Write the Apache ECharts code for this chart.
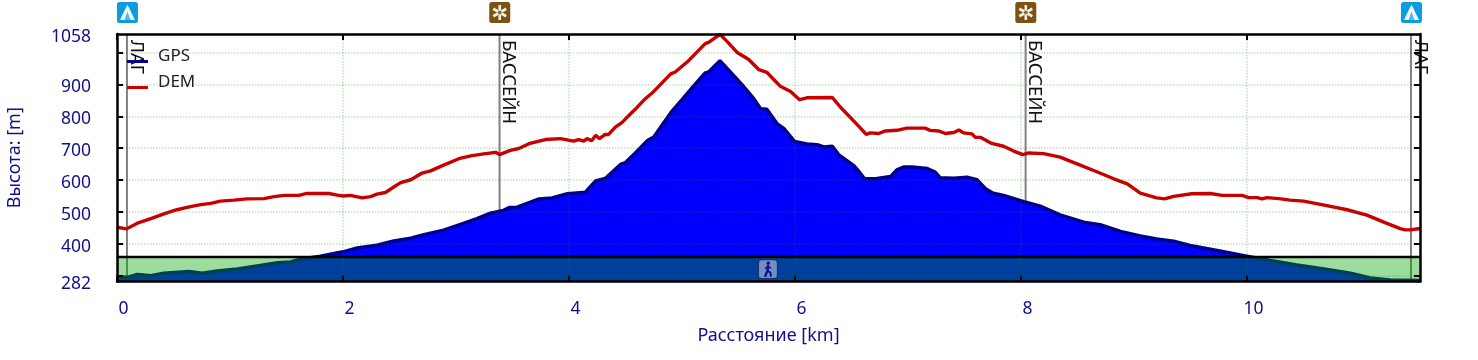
<!DOCTYPE html>
<html>
<head>
<meta charset="utf-8">
<style>html,body{margin:0;padding:0;background:#fff}#c{width:1478px;height:360px}</style>
<script src="https://cdn.jsdelivr.net/npm/echarts@6/dist/echarts.min.js"></script>
</head>
<body>
<div id="c"></div>
<script>
const demKm = [0,0.085,0.18,0.30,0.415,0.53,0.65,0.74,0.83,0.915,1.035,1.15,1.30,1.39,1.48,1.61,1.68,1.875,1.95,2.00,2.065,2.17,2.245,2.30,
2.375,2.435,2.51,2.60,2.70,2.775,2.89,3.025,3.13,3.245,3.35,3.385,3.48,3.555,3.645,3.79,3.925,4.04,4.085,4.13,4.16,4.20,4.235,4.27,4.32,4.35,4.41,4.47,4.545,4.60,
4.66,4.75,4.90,4.94,5.045,5.205,5.235,5.335,5.40,5.485,5.59,5.68,5.75,5.87,5.96,6.04,6.105,6.33,6.40,6.55,6.63,6.665,6.74,6.80,6.90,
6.99,7.15,7.195,7.27,7.33,7.405,7.45,7.49,7.565,7.595,7.64,7.74,7.845,7.935,8.015,8.07,8.20,8.345,8.495,8.67,8.82,8.94,9.055,9.20,
9.27,9.35,9.51,9.675,9.78,9.955,10.015,10.09,10.13,10.175,10.28,10.38,10.50,10.705,10.885,11.06,11.21,11.355,11.40,11.445,11.53];
const demElevation = [452,447,465,479,494,507,517,523,527,534,537,541,542,548,552,552,558,558,553,550,552,544,548,556,
561,575,592,601,622,629,647,667,676,682,687,680,693,699,714,727,730,722,727,722,730,723,740,730,743,743,766,781,808,827,
850,878,933,939,970,1028,1032,1057,1034,1001,978,946,938,894,878,852,858,859,829,774,743,748,746,754,756,
763,763,756,754,746,749,757,748,745,734,734,715,706,691,680,685,683,672,651,626,604,588,559,544,
541,549,557,558,552,552,545,545,541,545,542,537,534,520,507,490,468,448,444,444,448];
const gpsKm = [0,0.09,0.18,0.30,0.415,0.635,0.755,0.885,1.065,1.24,1.42,1.535,1.625,1.80,2.00,2.125,2.30,
2.45,2.60,2.715,2.89,3.04,3.185,3.305,3.42,3.47,3.54,3.63,3.735,3.85,3.985,4.145,4.235,4.32,4.455,4.50,4.60,
4.69,4.75,4.915,5.00,5.105,5.205,5.235,5.335,5.415,5.53,5.635,5.695,5.75,5.84,5.90,5.995,6.105,6.195,6.255,6.33,6.385,6.52,6.565,6.615,6.725,6.845,6.90,
6.96,7.035,7.17,7.24,7.285,7.405,7.52,7.61,7.685,7.745,7.845,8.025,8.17,8.345,8.555,8.70,8.88,9.055,9.20,
9.35,9.495,9.735,9.985,10.205,10.44,10.68,10.915,11.09,11.265,11.53];
const gpsElevation = [297,295,304,300,308,313,308,315,321,331,341,343,352,361,375,387,396,
409,418,429,443,461,479,496,505,514,515,527,541,544,557,562,597,605,649,655,690,
723,735,818,852,896,936,939,974,944,899,855,824,822,777,762,721,713,711,704,706,680,645,627,604,605,611,632,
641,641,636,625,607,606,609,601,573,560,552,532,518,491,468,460,439,425,415,
408,395,379,362,348,334,321,308,293,287,285];
const waypointKm = [0.088,3.385,8.04,11.45];
const waypointNames = ['ЛАГ','БАССЕЙН','БАССЕЙН','ЛАГ'];
const waypointKinds = ['tent','pool','pool','tent'];
const bandRange = [282,359];
const walkKm = [5.76];
const xTicks = [0,2,4,6,8,10];
const yTicks = [300,400,500,600,700,800,900,1000];
const yLabels = [282,400,500,600,700,800,900,1058];
const xMax = 11.53, yMin = 282, yMax = 1058;

const navy = '#10108c', font = '"Noto Sans"';
const zip = (a,b) => a.map((v,i)=>[v,b[i]]);
const gridLine = {show:true,lineStyle:{color:'rgba(0,140,0,0.26)',width:1.5,type:[1.5,1.5]}};
const tick = cv => ({show:true,inside:true,length:6,lineStyle:{color:'#000',width:2},customValues:cv});
const line = {show:true,onZero:false,lineStyle:{color:'#000',width:2.5}};
const legendLine = 'path://M0,0 L0.01,0 L0,0.01 Z M0,10 L21,10 L21,13 L0,13 Z';

function tentIcon(cx,cy){
  return [
    {type:'rect',shape:{x:cx-10.5,y:cy-10.5,width:21,height:21,r:2.5},style:{fill:'#0d9be2'}},
    {type:'polygon',shape:{points:[[cx,cy-7.5],[cx+1.5,cy-5],[cx+7.5,cy+7.5],[cx-7.5,cy+7.5],[cx-1.5,cy-5]]},style:{fill:'#f0fbff'}},
    {type:'polygon',shape:{points:[[cx,cy-1],[cx+3,cy+7.5],[cx-3,cy+7.5]]},style:{fill:'#4db8ea'}}
  ];
}
function poolIcon(cx,cy){
  const spokes = [0,1,2].map(i=>{
    const a = i*Math.PI/3, dx = 7.5*Math.sin(a), dy = 7.5*Math.cos(a);
    return {type:'line',shape:{x1:cx-dx,y1:cy-dy,x2:cx+dx,y2:cy+dy},style:{stroke:'#f5efe2',lineWidth:2.6}};
  });
  return [
    {type:'rect',shape:{x:cx-10.5,y:cy-10.5,width:21,height:21,r:2.5},style:{fill:'#7a5214'}},
    ...spokes,
    {type:'circle',shape:{cx,cy,r:2},style:{fill:'#8f6d35'}}
  ];
}
function walkIcon(cx,cy){
  return [
    {type:'rect',shape:{x:cx-9.5,y:cy-9.5,width:19,height:19,r:3},style:{fill:'#6f8fcb',stroke:'#1c2f66',lineWidth:1.2}},
    {type:'circle',shape:{cx:cx+0.3,cy:cy-6,r:1.8},style:{fill:'#10108c'}},
    {type:'polyline',shape:{points:[[cx+0.2,cy-3.5],[cx-0.4,cy+1.5],[cx-3,cy+7.5]]},style:{stroke:'#10108c',lineWidth:2.4,fill:null}},
    {type:'polyline',shape:{points:[[cx-0.4,cy+1.5],[cx+2.6,cy+3.5],[cx+3,cy+7.5]]},style:{stroke:'#10108c',lineWidth:2,fill:null}},
    {type:'polyline',shape:{points:[[cx+0.2,cy-3.5],[cx+3,cy-0.8]]},style:{stroke:'#10108c',lineWidth:1.3,fill:null}},
    {type:'polyline',shape:{points:[[cx+0.2,cy-3.5],[cx-3,cy-0.5]]},style:{stroke:'#10108c',lineWidth:1.3,fill:null}}
  ];
}

const chart = echarts.init(document.getElementById('c'),null,{renderer:'canvas'});
chart.setOption({
  animation:false,
  backgroundColor:'#fff',
  textStyle:{fontFamily:font},
  grid:{left:117,right:58,top:34,bottom:78.5,containLabel:false,outerBoundsMode:'none'},
  legend:{
    data:['GPS','DEM'],orient:'vertical',left:127,top:48,padding:0,itemWidth:21,itemHeight:13,itemGap:9,icon:legendLine,
    selectedMode:false,textStyle:{color:'#222',fontSize:17,fontFamily:font,padding:[0,0,0,5]},z:9
  },
  xAxis:[
    {type:'value',min:0,max:xMax,z:6,axisLine:line,axisTick:tick(xTicks),splitLine:gridLine,
     axisLabel:{customValues:xTicks,color:navy,fontSize:17.5,fontFamily:font,margin:19,padding:[0,0,0,13]},
     name:'Расстояние [km]',nameLocation:'middle',nameGap:45,nameTextStyle:{color:navy,fontSize:18,fontFamily:font}},
    {type:'value',position:'top',min:0,max:xMax,z:6,axisLine:line,axisTick:tick(xTicks),splitLine:{show:false},axisLabel:{show:false}}
  ],
  yAxis:[
    {type:'value',min:yMin,max:yMax,z:6,axisLine:line,axisTick:tick(yTicks),splitLine:gridLine,
     axisLabel:{customValues:yLabels,color:navy,fontSize:17.5,fontFamily:font,margin:26,verticalAlign:'top',padding:[-6,0,0,0],formatter:v=>String(v)},
     name:'Высота: [m]',nameLocation:'middle',nameGap:93,nameTextStyle:{color:navy,fontSize:18,fontFamily:font}},
    {type:'value',position:'right',min:yMin,max:yMax,z:6,axisLine:line,axisTick:tick(yTicks),splitLine:{show:false},axisLabel:{show:false}}
  ],
  series:[
    {name:'waypoints',type:'custom',z:1,clip:false,data:waypointKm.map(k=>[k]),
     renderItem(params,api){
       const i = params.dataIndex, top = api.coord([api.value(0),yMax]), bot = api.coord([api.value(0),yMin]);
       const cx = top[0];
       return {type:'group',children:[
         {type:'line',shape:{x1:cx,y1:top[1],x2:cx,y2:bot[1]},style:{stroke:'#808080',lineWidth:2}},
         {type:'text',x:cx+9,y:top[1]+6,rotation:-Math.PI/2,
          style:{text:waypointNames[i],font:'18.5px '+font,fill:'#111',align:'left',verticalAlign:'middle'}},
         ...(waypointKinds[i]==='tent'?tentIcon(cx+0.5,12.5):poolIcon(cx+0.2,12.5))
       ]};
     }},
    {name:'GPS',type:'line',data:zip(gpsKm,gpsElevation),showSymbol:false,symbol:'none',z:2,
     lineStyle:{color:'#00008c',width:3.5},itemStyle:{color:'#00008c'},areaStyle:{color:'#0000ff',opacity:1,origin:'start'}},
    {name:'DEM',type:'line',data:zip(demKm,demElevation),showSymbol:false,symbol:'none',z:3,
     lineStyle:{color:'#c80000',width:3.4},itemStyle:{color:'#c80000'}},
    {name:'band',type:'custom',z:5,clip:false,data:[[bandRange[0],bandRange[1]]],
     renderItem(params,api){
       const lo = api.coord([0,api.value(0)]), hi = api.coord([xMax,api.value(1)]);
       return {type:'group',children:[
         {type:'rect',shape:{x:lo[0],y:hi[1],width:hi[0]-lo[0],height:lo[1]-hi[1]},style:{fill:'rgba(0,165,0,0.39)'}},
         {type:'line',shape:{x1:lo[0],y1:hi[1],x2:hi[0],y2:hi[1]},style:{stroke:'#000',lineWidth:2.5}}
       ]};
     }},
    {name:'walk',type:'custom',z:7,clip:false,data:walkKm.map(k=>[k,(bandRange[0]+bandRange[1])/2]),
     renderItem(params,api){
       const p = api.coord([api.value(0),api.value(1)]);
       return {type:'group',children:walkIcon(p[0],p[1])};
     }}
  ]
});
</script>
</body>
</html>
